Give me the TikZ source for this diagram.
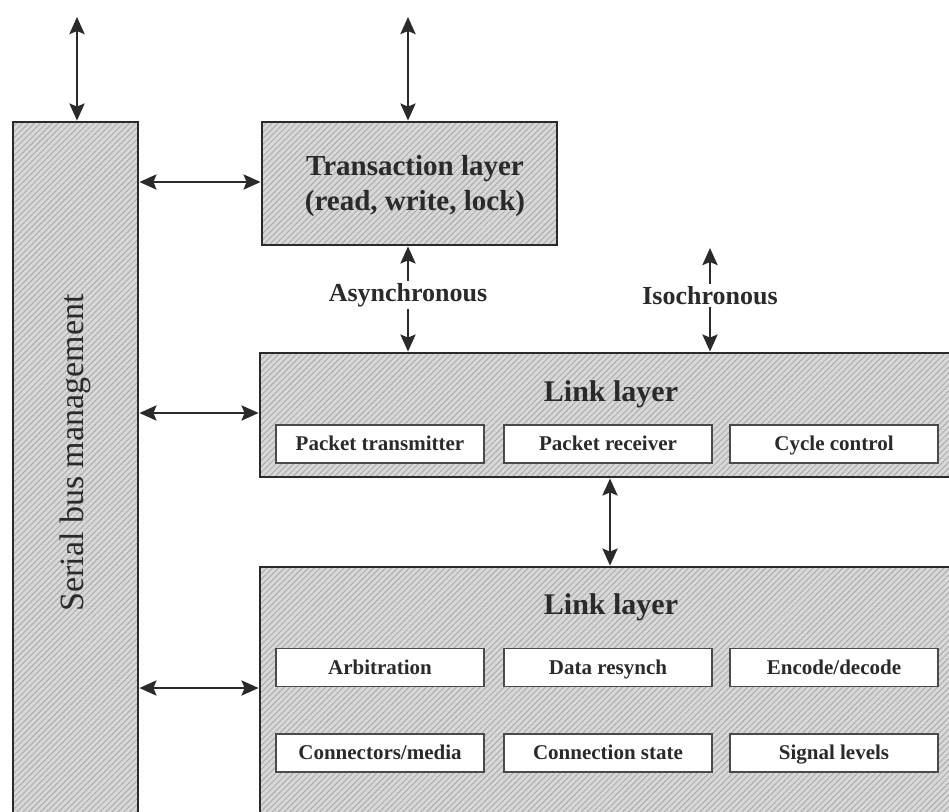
\documentclass[tikz,border=0pt]{standalone}
\usepackage{fontspec}
\setmainfont{Liberation Serif}
\usetikzlibrary{arrows.meta,patterns.meta}
\definecolor{ink}{HTML}{2A2A2A}
\definecolor{hatchbg}{HTML}{D8D8D8}
\definecolor{hatchln}{HTML}{ADADAD}
\tikzset{
  layer/.style={draw=ink, line width=2.8pt,
    preaction={fill=hatchbg},
    preaction={pattern={Lines[angle=45,distance=4.2pt,line width=1pt]}, pattern color=hatchln},
    inner sep=0pt},
  sub/.style={draw=ink!85, line width=1.7pt, fill=white, minimum width=208pt,
    minimum height=38pt, inner sep=0pt, text=ink, text height=16pt, text depth=3pt,
    font=\fontsize{21}{23}\selectfont\bfseries},
  title/.style={text=ink, inner sep=0pt, font=\fontsize{30}{32}\selectfont\bfseries},
  lbl/.style={text=ink, fill=white, inner sep=2pt, font=\fontsize{26}{28}\selectfont\bfseries},
  dbl/.style={{Stealth[length=17pt,width=15pt,inset=3pt]}-{Stealth[length=17pt,width=15pt,inset=3pt]},
    line width=2.8pt, draw=ink},
}
\begin{document}
\begin{tikzpicture}[x=1pt,y=-1pt]
\useasboundingbox (0,0) rectangle (949,811);
\fill[white] (0,0) rectangle (949,811);
\begin{scope}
\clip (0,0) rectangle (949,811);
% boxes
\node[layer, minimum width=125pt, minimum height=718pt] (sbm) at (75.5,481) {};
\node[text=ink, rotate=90, inner sep=0pt, font=\fontsize{34}{36}\selectfont] (sbmtext) at (75,453) {Serial bus management};
\node[layer, minimum width=295pt, minimum height=123pt] (trans) at (409.5,183.5) {};
\node[text=ink, align=center, inner sep=0pt, font=\fontsize{29}{35}\selectfont\bfseries] (transtext) at (415,186) {Transaction layer\\(read, write, lock)};
\node[layer, minimum width=702pt, minimum height=124pt] (link1) at (611,415) {};
\node[title] (l1title) at (611,394) {Link layer};
\node[sub] (ptx) at (380,444) {Packet transmitter};
\node[sub] (prx) at (608,444) {Packet receiver};
\node[sub] (cyc) at (834,444) {Cycle control};
\node[layer, minimum width=702pt, minimum height=280pt] (link2) at (611,707) {};
\node[title] (l2title) at (611,607) {Link layer};
\node[sub] (arb) at (380,667.5) {Arbitration};
\node[sub] (dres) at (608,667.5) {Data resynch};
\node[sub] (enc) at (834,667.5) {Encode/decode};
\node[sub] (conn) at (380,753) {Connectors/media};
\node[sub] (cst) at (608,753) {Connection state};
\node[sub] (sig) at (834,753) {Signal levels};
% free ends and guide coordinates
\coordinate (topA) at (77,17);
\coordinate (topB) at (408,17);
\coordinate (isoTop) at (710,248);
\coordinate (yT) at (0,182);
\coordinate (yL1) at (0,413);
\coordinate (yL2) at (0,688);
\coordinate (xAs) at (408,0);
\coordinate (xIso) at (710,0);
\coordinate (xMid) at (610,0);
% connectors
\draw[dbl] (topA) -- (sbm.north -| topA);
\draw[dbl] (topB) -- (trans.north -| topB);
\draw[dbl] (sbm.east |- yT) -- (trans.west |- yT);
\draw[dbl] (sbm.east |- yL1) -- (link1.west |- yL1);
\draw[dbl] (sbm.east |- yL2) -- (link2.west |- yL2);
\draw[dbl] (trans.south -| xAs) -- (link1.north -| xAs)
  node[lbl, pos=0.46] (async) {Asynchronous};
\draw[dbl] (isoTop) -- (link1.north -| xIso)
  node[lbl, pos=0.46] (iso) {Isochronous};
\draw[dbl] (link1.south -| xMid) -- (link2.north -| xMid);
\end{scope}
\end{tikzpicture}
\end{document}
